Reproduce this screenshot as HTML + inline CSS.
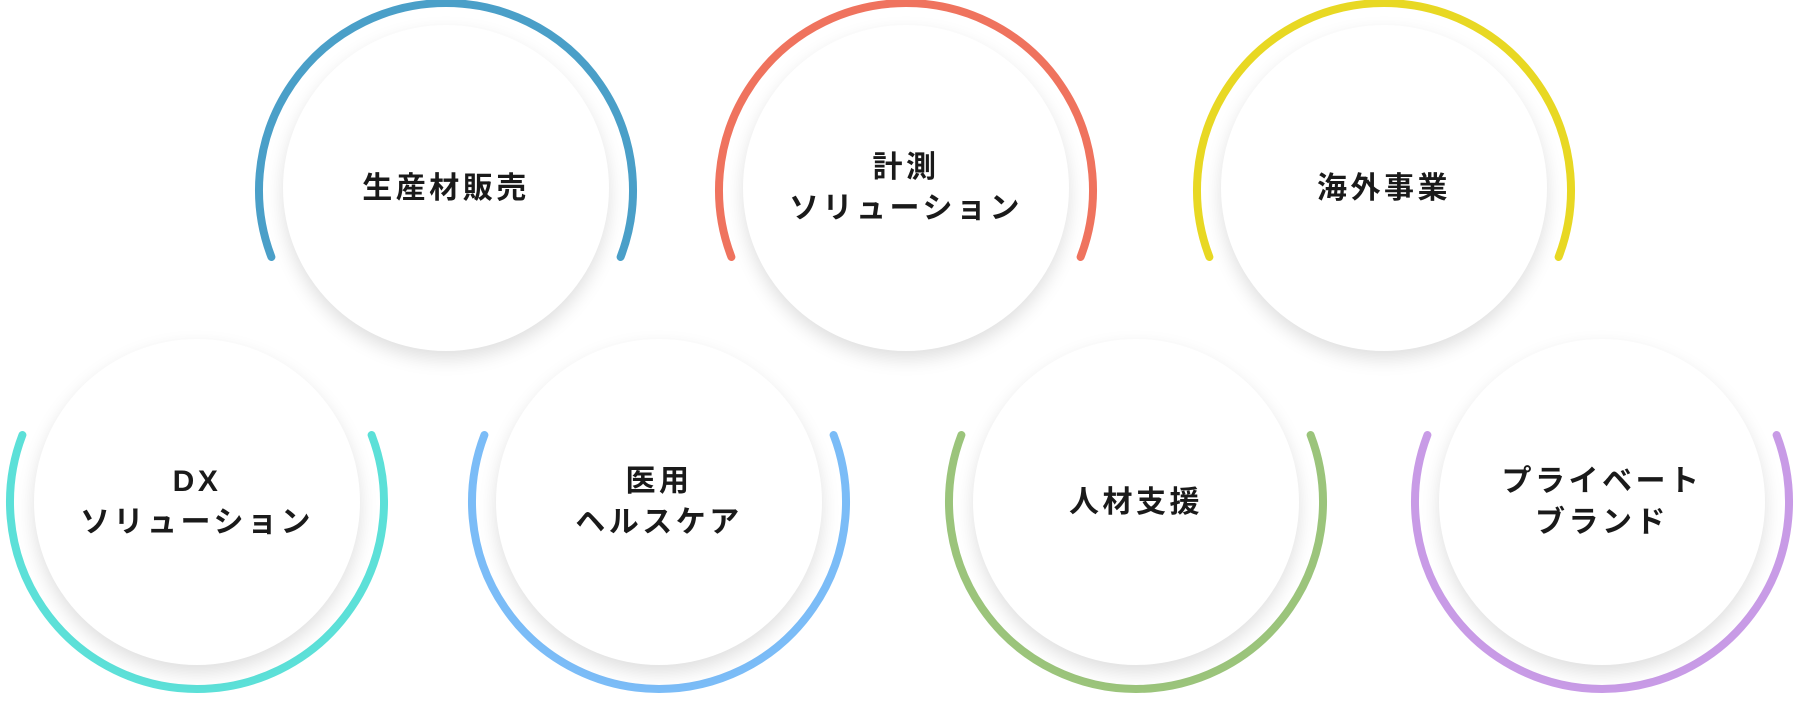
<!DOCTYPE html>
<html><head><meta charset="utf-8"><style>
html,body{margin:0;padding:0;background:#fff;}
body{width:1796px;height:706px;position:relative;overflow:hidden;font-family:"Liberation Sans","Noto Sans CJK JP",sans-serif;}
.c{position:absolute;width:326px;height:326px;border-radius:50%;background:#fff;box-shadow:0 8px 18px rgba(0,0,0,0.13);display:flex;align-items:center;justify-content:center;text-align:center;font-weight:bold;font-size:30px;line-height:41px;letter-spacing:3.5px;color:#1a1a1a;}
svg{position:absolute;left:0;top:0;}
</style></head><body>
<svg width="1796" height="706" viewBox="0 0 1796 706" fill="none" stroke-width="8" stroke-linecap="round">
<path d="M271.4,257 A187,187 0 1 1 620.6,257" stroke="#4a9fc8"/>
<path d="M731.4,257 A187,187 0 1 1 1080.6,257" stroke="#ef735e"/>
<path d="M1209.4,257 A187,187 0 1 1 1558.6,257" stroke="#e8d823"/>
<path d="M22.4,435 A187,187 0 1 0 371.6,435" stroke="#5ce0d8"/>
<path d="M484.4,435 A187,187 0 1 0 833.6,435" stroke="#7bbcf7"/>
<path d="M961.4,435 A187,187 0 1 0 1310.6,435" stroke="#9bc47b"/>
<path d="M1427.4,435 A187,187 0 1 0 1776.6,435" stroke="#c89be6"/>
</svg>
<div class="c" style="left:283px;top:25px;">生産材販売</div>
<div class="c" style="left:743px;top:25px;">計測<br>ソリューション</div>
<div class="c" style="left:1221px;top:25px;">海外事業</div>
<div class="c" style="left:34px;top:339px;">DX<br>ソリューション</div>
<div class="c" style="left:496px;top:339px;">医用<br>ヘルスケア</div>
<div class="c" style="left:973px;top:339px;">人材支援</div>
<div class="c" style="left:1439px;top:339px;">プライベート<br>ブランド</div>
</body></html>
